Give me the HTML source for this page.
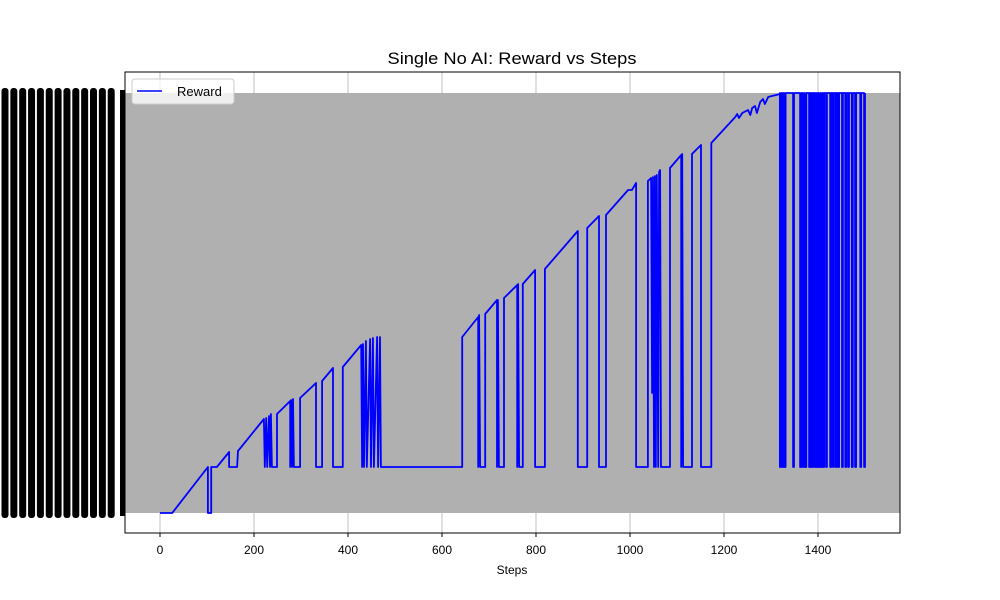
<!DOCTYPE html>
<html><head><meta charset="utf-8"><style>body{margin:0;background:#fff}svg{display:block}</style></head>
<body>
<svg id="chart" width="1000" height="600" xmlns="http://www.w3.org/2000/svg" font-family="'Liberation Sans', 'DejaVu Sans', sans-serif"></svg>
<script>
const steps=[0,26,102,102,109,109,121,147,147,164,166,221,223,226,228,232,234,236,238,249,249,277,277,279,281,283,285,298,298,332,332,345,345,368,368,389,389,428,430,432,434,438,440,447,449,453,455,462,464,468,470,643,643,677,677,679,681,692,692,717,717,719,721,732,732,760,760,762,764,772,772,798,798,819,819,889,889,909,909,934,934,949,949,996,1004,1013,1013,1038,1038,1045,1047,1049,1051,1053,1055,1057,1060,1062,1064,1066,1085,1085,1109,1109,1111,1113,1132,1132,1151,1151,1173,1173,1224,1228,1232,1239,1251,1256,1260,1266,1270,1277,1283,1287,1294,1302,1311,1319];
const values=[0,0,46,0,0,46,46,61,46,46,62,94,46,95,46,97,46,99,46,46,99,112,46,113,46,114,46,46,115,130,46,46,132,145,46,46,146,168,46,169,46,172,46,174,46,175,46,176,46,176,46,46,176,196,46,198,46,46,199,213,46,213,46,46,215,228,46,229,46,46,229,243,46,46,244,282,46,46,285,297,46,46,298,323,323,330,46,46,332,335,120,336,46,337,46,338,46,341,343,46,46,345,358,46,359,46,46,359,368,46,46,370,396,399,395,400,403,398,405,407,400,411,414,409,416,417,418,419];
const spikeSteps=[1319,1324,1328,1347,1362,1368,1372,1381,1385,1389,1394,1398,1402,1406,1411,1417,1426,1432,1438,1443,1451,1458,1464,1472,1479,1490,1498];
const spikeWidths=[3,3,3,2,3,3,3,2,2,2,3,3,3,3,2,2,2,2,2,2,2,2,2,2,2,2,2];
const xTicks=[0,200,400,600,800,1000,1200,1400];
const topValue=420, dropValue=46;

const svg=document.getElementById('chart');
const NS='http://www.w3.org/2000/svg';
const L=125,R=900,T=72,B=533;
const xs=s=>160+s*0.47;
const ys=v=>513-v;
function mk(tag,attrs,parent){const e=document.createElementNS(NS,tag);for(const k in attrs)e.setAttribute(k,attrs[k]);(parent||svg).appendChild(e);return e;}

let band=mk('rect',{x:L,y:ys(topValue),width:R-L,height:ys(0)-ys(topValue),fill:'#b0b0b0'});


xTicks.forEach(t=>{
  let g=mk('line',{x1:xs(t),x2:xs(t),y1:T,y2:B,stroke:'#b0b0b0','stroke-width':0.8});
  
  
});
let pts=steps.map((s,i)=>[s,values[i]]);
spikeSteps.forEach((s,i)=>{pts.push([s,topValue],[s,dropValue],[s+spikeWidths[i],dropValue],[s+spikeWidths[i],topValue]);});
pts.push([1500,topValue]);
let d=pts.map((p,i)=>(i?'L':'M')+xs(p[0]).toFixed(1)+' '+ys(p[1]).toFixed(1)).join(' ');
let line=mk('path',{d:d,fill:'none',stroke:'#0000ff','stroke-width':1.8,'stroke-linejoin':'round'});


let fr=mk('rect',{x:L,y:T,width:R-L,height:B-T,fill:'none',stroke:'#000','stroke-width':1});


xTicks.forEach(t=>{
  mk('line',{x1:xs(t),x2:xs(t),y1:B,y2:B+4,stroke:'#000'});
  let tx=mk('text',{x:xs(t),y:B+21,'text-anchor':'middle','font-size':12,fill:'#000'});
  tx.textContent=t;
  
  
});
for(let i=0;i<13;i++){
  let c=mk('rect',{x:1.5+i*8.85,y:88,width:7,height:430,rx:3,fill:'#000'});
  
  
}
let tb=mk('rect',{x:120,y:90,width:5,height:426,fill:'#000'});


let ti=mk('text',{x:512,y:64,'text-anchor':'middle','font-size':17,fill:'#000',textLength:249,lengthAdjust:'spacingAndGlyphs'});
ti.textContent='Single No AI: Reward vs Steps';


let xl=mk('text',{x:512,y:574,'text-anchor':'middle','font-size':12,fill:'#000'});
xl.textContent='Steps';


let lg=mk('g',{});


mk('rect',{x:132,y:79,width:102,height:25,rx:3,fill:'#fff','fill-opacity':0.8,stroke:'#ccc'},lg);
mk('line',{x1:137,x2:162,y1:91,y2:91,stroke:'#0000ff','stroke-width':1.5},lg);
let lt=mk('text',{x:177,y:96,'font-size':13,fill:'#000'},lg);
lt.textContent='Reward';


</script>
</body></html>
